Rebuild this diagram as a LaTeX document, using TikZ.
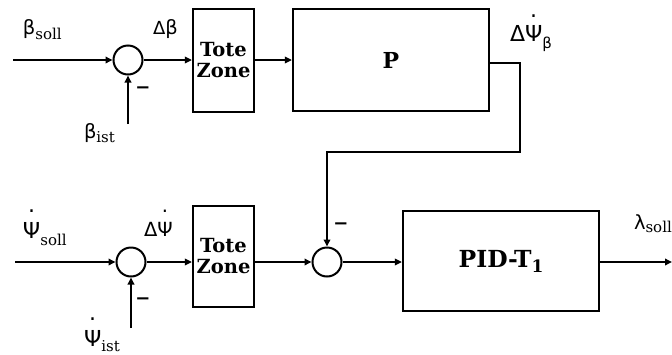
\documentclass[tikz,border=0pt]{standalone}
\usepackage{fontspec}
\setmainfont{DejaVu Serif}
\newfontfamily\gr{DejaVu Sans}
\usetikzlibrary{arrows.meta}
\newcommand\hdot[2][1.3em]{\ooalign{#2\cr\hidewidth\raisebox{#1}{.}\hidewidth\cr}}
\newcommand\lsub[3][4pt]{\raisebox{-#1}{\rmfamily\fontsize{#2}{#2}\selectfont #3}}
\begin{document}
\begin{tikzpicture}[x=1pt,y=-1pt,line width=2pt,
  sumnode/.style={circle,draw,minimum size=29pt,inner sep=0pt},
  blk/.style={draw,line width=2.2pt,inner sep=0pt,font=\bfseries\fontsize{19.5}{21}\selectfont,align=center},
  lbl/.style={inner sep=0pt,anchor=base west,font=\gr\fontsize{19.5}{19.5}\selectfont},
  big/.style={font=\gr\fontsize{22}{22}\selectfont},
  sig/.style={-{Triangle[length=7pt,width=6.5pt]}},
  minus/.style={inner sep=0pt,font=\gr\bfseries\fontsize{18}{18}\selectfont}]
\useasboundingbox (0,0) rectangle (672,354);
% top row
\coordinate (in1) at (13,60);
\node[sumnode] (s1) at (128,60) {};
\node[blk,minimum width=61pt,minimum height=103pt] (tz1) at (223.5,60.5) {Tote\\Zone};
\node[blk,minimum width=196pt,minimum height=102pt,font=\bfseries\fontsize{22}{22}\selectfont] (P) at (391,60) {P};
\coordinate (b1) at (128,124);
\coordinate (c1) at (520,63);
\coordinate (c2) at (520,152);
\coordinate (c3) at (327,152);
% bottom row
\coordinate (in2) at (15,262);
\node[sumnode] (s2) at (131,262) {};
\node[blk,minimum width=61pt,minimum height=101pt] (tz2) at (223.5,256.5) {Tote\\Zone};
\node[sumnode] (s3) at (327,262) {};
\node[blk,minimum width=196pt,minimum height=100pt,font=\bfseries\fontsize{23.5}{23.5}\selectfont] (pid) at (501,261) {PID-T\raisebox{-5pt}{\fontsize{17}{17}\selectfont 1}};
\coordinate (b2) at (131,328);
\coordinate (out) at (672,262);
% connectors
\draw[sig] (in1) -- (s1.west);
\draw[sig] (s1.east) -- (s1.east -| tz1.west);
\draw[sig] (tz1.east |- s1) -- (P.west |- s1);
\draw[sig] (b1) -- (s1.south);
\draw[sig] (P.east |- c1) -- (c1) -- (c2) -- (c3) -- (s3.north);
\draw[sig] (in2) -- (s2.west);
\draw[sig] (s2.east) -- (s2.east -| tz2.west);
\draw[sig] (tz2.east |- s2) -- (s3.west);
\draw[sig] (s3.east) -- (s3.east -| pid.west);
\draw[sig] (pid.east |- out) -- (out);
\draw[sig] (b2) -- (s2.south);
% labels
\node[lbl] (lbs) at (22,34.5) {β\lsub[5pt]{15}{soll}};
\node[lbl] (ldb) at (152,34) {{\fontsize{18}{18}\selectfont Δ}β};
\node[lbl] (lbi) at (83,138) {β\lsub[4pt]{15}{ist}};
\node[lbl,big] (ldp) at (509,41.5) {Δ\hdot[1.08em]{Ψ}\raisebox{-7pt}{\fontsize{15}{15}\selectfont β}};
\node[lbl,big] (lps) at (22,238) {\hdot[1.15em]{Ψ}\lsub[7pt]{15}{soll}};
\node[lbl] (ldps) at (143,236.5) {Δ\hdot[1.25em]{Ψ}};
\node[lbl,big] (lpi) at (83,346) {\hdot[1.15em]{Ψ}\lsub[5pt]{15}{ist}};
\node[lbl] (lls) at (633,229) {λ\lsub[3pt]{15}{soll}};
\node[minus] (m1) at (143,90) {−};
\node[minus] (m2) at (143,301) {−};
\node[minus] (m3) at (341,226) {−};
\end{tikzpicture}
\end{document}
